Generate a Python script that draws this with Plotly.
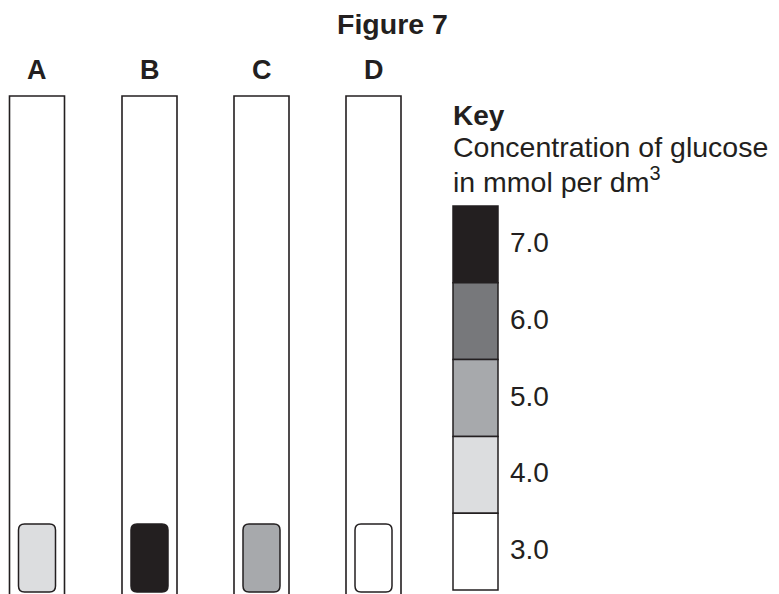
import plotly.graph_objects as go

# ---- data ----
tubes = ["A", "B", "C", "D"]
glucose = [4.0, 7.0, 5.0, 3.0]          # concentration shown by each tube's colour
key_levels = [7.0, 6.0, 5.0, 4.0, 3.0]
key_colors = ["#231f20", "#77787b", "#a7a9ac", "#dcdddf", "#ffffff"]
title_text = "Figure 7"
key_title = "Key"
key_caption = ["Concentration of glucose", "in mmol per dm<sup>3</sup>"]

# ---- layout constants (pixel-like data space) ----
W, H = 779, 594
OFF = 8   # page body margin
INK = "#231f20"
FONT = "Arial, Liberation Sans, Helvetica, sans-serif"
FS = 28
tube_x0 = [9.5, 122, 234, 346]
tube_w = 55
tube_top = 96
sample_pad = 9
sample_top, sample_bot = 524, 592
key_x0, key_x1 = 453, 498
key_top, key_seg = 206, 76.8

color_of = dict(zip(key_levels, key_colors))

def rounded(x0, y0, x1, y1, r):
    return (f"M {x0+r},{y0} L {x1-r},{y0} Q {x1},{y0} {x1},{y0+r} "
            f"L {x1},{y1-r} Q {x1},{y1} {x1-r},{y1} L {x0+r},{y1} "
            f"Q {x0},{y1} {x0},{y1-r} L {x0},{y0+r} Q {x0},{y0} {x0+r},{y0} Z")

shapes = []
annotations = []

for name, conc, x0 in zip(tubes, glucose, tube_x0):
    x1 = x0 + tube_w
    shapes.append(dict(type="path", xref="x", yref="y",
                       path=f"M {x0},{H+5} L {x0},{tube_top} L {x1},{tube_top} L {x1},{H+5}",
                       line=dict(color=INK, width=1.6)))
    shapes.append(dict(type="path", xref="x", yref="y",
                       path=rounded(x0 + sample_pad, sample_top, x1 - sample_pad, sample_bot, 6),
                       fillcolor=color_of[conc], line=dict(color=INK, width=1.5)))
    annotations.append(dict(x=(x0 + x1) / 2, y=70, xref="x", yref="y", text=f"<b>{name}</b>",
                            showarrow=False, font=dict(size=27, color=INK, family=FONT),
                            xanchor="center", yanchor="middle"))

for i, (lev, col) in enumerate(zip(key_levels, key_colors)):
    y0 = key_top + i * key_seg
    y1 = y0 + key_seg
    shapes.append(dict(type="rect", xref="x", yref="y", x0=key_x0, x1=key_x1, y0=y0, y1=y1,
                       fillcolor=col, line=dict(color=INK, width=1.5)))
    annotations.append(dict(x=key_x1 + 10, y=(y0 + y1) / 2 - 2, xref="x", yref="y", text=f"{lev:.1f}",
                            showarrow=False, font=dict(size=FS, color=INK, family=FONT),
                            xanchor="left", yanchor="middle"))

annotations.append(dict(x=392, y=24, xref="x", yref="y", text=f"<b>{title_text}</b>",
                        showarrow=False, font=dict(size=28.5, color=INK, family=FONT),
                        xanchor="center", yanchor="middle"))
annotations.append(dict(x=451, y=115, xref="x", yref="y", text=f"<b>{key_title}</b>",
                        showarrow=False, font=dict(size=FS, color=INK, family=FONT),
                        xanchor="left", yanchor="middle"))
for j, line in enumerate(key_caption):
    annotations.append(dict(x=451, y=147 + j * 33, xref="x", yref="y", text=line,
                            showarrow=False, font=dict(size=28.5, color=INK, family=FONT),
                            xanchor="left", yanchor="middle"))

fig = go.Figure()
fig.update_layout(
    width=W - OFF, height=H - OFF, margin=dict(l=0, r=0, t=0, b=0),
    paper_bgcolor="white", plot_bgcolor="white",
    xaxis=dict(range=[OFF, W], visible=False, fixedrange=True),
    yaxis=dict(range=[H, OFF], visible=False, fixedrange=True),
    shapes=shapes, annotations=annotations, showlegend=False,
)
fig.write_html("out.html")
